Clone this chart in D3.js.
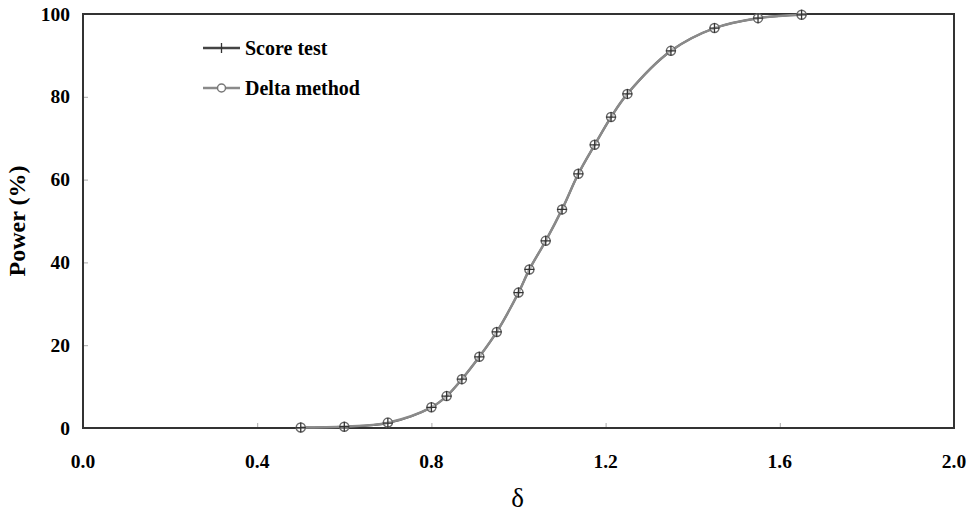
<!DOCTYPE html>
<html>
<head>
<meta charset="utf-8">
<script src="https://cdn.jsdelivr.net/npm/d3@7"></script>
<style>
  body { margin: 0; background: #fff; }
  svg { font-family: "Liberation Serif", "Times New Roman", serif; }
</style>
</head>
<body>
<svg id="chart" width="970" height="514"></svg>
<script>
// values
let delta = [0.5, 0.6, 0.7, 0.8, 0.835, 0.87, 0.91, 0.95, 1.0, 1.025, 1.0625, 1.1, 1.1375, 1.175, 1.2125, 1.25, 1.35, 1.45, 1.55, 1.65];
let scoreTest = [0.1, 0.3, 1.2, 5.0, 7.7, 11.8, 17.2, 23.2, 32.7, 38.3, 45.2, 52.8, 61.4, 68.4, 75.1, 80.7, 91.1, 96.6, 99.0, 99.8];
let deltaMethod = [0.1, 0.3, 1.3, 5.0, 7.7, 11.8, 17.2, 23.2, 32.7, 38.3, 45.2, 52.8, 61.4, 68.4, 75.1, 80.7, 91.1, 96.6, 99.0, 99.8];
let xTicks = [0.0, 0.4, 0.8, 1.2, 1.6, 2.0];
let yTicks = [0, 20, 40, 60, 80, 100];

let svg = d3.select("#chart"),
    pLeft = 83, pRight = 954, pTop = 14, pBottom = 428;

let x = d3.scaleLinear().domain([0, 2]).range([pLeft, pRight]),
    y = d3.scaleLinear().domain([0, 100]).range([pBottom, pTop]);

// inside tick marks
svg.append("g")
    .attr("transform", "translate(0," + pBottom + ")")
    .call(d3.axisTop(x).tickValues(xTicks.slice(1, -1)).tickSize(5).tickFormat(""))
    .call(g => g.select(".domain").remove())
    .call(g => g.selectAll("line").attr("stroke", "#aaa"));

svg.append("g")
    .attr("transform", "translate(" + pLeft + ",0)")
    .call(d3.axisRight(y).tickValues(yTicks.slice(1, -1)).tickSize(5).tickFormat(""))
    .call(g => g.select(".domain").remove())
    .call(g => g.selectAll("line").attr("stroke", "#aaa"));

// tick labels
svg.append("g").selectAll("text")
    .data(xTicks)
    .enter().append("text")
    .attr("x", d => x(d))
    .attr("y", 468)
    .attr("text-anchor", "middle")
    .attr("font-size", "19.5px")
    .attr("font-weight", "bold")
    .text(d => d.toFixed(1));

svg.append("g").selectAll("text")
    .data(yTicks)
    .enter().append("text")
    .attr("x", 70)
    .attr("y", d => y(d) + 6.5)
    .attr("text-anchor", "end")
    .attr("font-size", "19.5px")
    .attr("font-weight", "bold")
    .text(d => d);

// frame
svg.append("rect")
    .attr("x", pLeft)
    .attr("y", pTop)
    .attr("width", pRight - pLeft)
    .attr("height", pBottom - pTop)
    .attr("fill", "none")
    .attr("stroke", "#333")
    .attr("stroke-width", 2);

// axis titles
svg.append("text")
    .attr("transform", "translate(25," + ((pTop + pBottom) / 2) + ") rotate(-90)")
    .attr("text-anchor", "middle")
    .attr("font-size", "24px")
    .attr("font-weight", "bold")
    .text("Power (%)");

svg.append("text")
    .attr("x", (pLeft + pRight) / 2 - 1)
    .attr("y", 507)
    .attr("text-anchor", "middle")
    .attr("font-size", "27px")
    .text("δ");

let line = d3.line()
    .x(d => x(d[0]))
    .y(d => y(d[1]))
    .curve(d3.curveCatmullRom.alpha(0.5));

let scorePts = delta.map((d, i) => [d, scoreTest[i]]),
    deltaPts = delta.map((d, i) => [d, deltaMethod[i]]);

svg.append("path")
    .datum(scorePts)
    .attr("d", line)
    .attr("fill", "none")
    .attr("stroke", "#444")
    .attr("stroke-width", 2);

svg.append("path")
    .datum(deltaPts)
    .attr("d", line)
    .attr("fill", "none")
    .attr("stroke", "#8a8a8a")
    .attr("stroke-width", 2.5);

// circle markers
svg.append("g").selectAll("circle")
    .data(deltaPts)
    .enter().append("circle")
    .attr("cx", d => x(d[0]))
    .attr("cy", d => y(d[1]))
    .attr("r", 4.5)
    .attr("fill", "rgba(255,255,255,0.4)")
    .attr("stroke", "#6a6a6a")
    .attr("stroke-width", 1.5);

// plus markers
svg.append("g").selectAll("path")
    .data(scorePts)
    .enter().append("path")
    .attr("transform", d => "translate(" + x(d[0]) + "," + y(d[1]) + ")")
    .attr("d", "M-5,0H5M0,-5V5")
    .attr("stroke", "#333")
    .attr("stroke-width", 1.3)
    .attr("fill", "none");

// legend
let legend = [
    { name: "Score test", color: "#444", marker: "plus", ly: 48 },
    { name: "Delta method", color: "#8a8a8a", marker: "circle", ly: 88 }
];

let lg = svg.append("g");
legend.forEach(function(s) {
    lg.append("line")
        .attr("x1", 203).attr("x2", 240)
        .attr("y1", s.ly).attr("y2", s.ly)
        .attr("stroke", s.color)
        .attr("stroke-width", 2.5);
    if (s.marker === "plus") {
        lg.append("path")
            .attr("transform", "translate(221.5," + s.ly + ")")
            .attr("d", "M0,-5V5")
            .attr("stroke", "#333")
            .attr("stroke-width", 1.3);
    } else {
        lg.append("circle")
            .attr("cx", 221.5).attr("cy", s.ly).attr("r", 4)
            .attr("fill", "#fff")
            .attr("stroke", "#777")
            .attr("stroke-width", 1.5);
    }
    lg.append("text")
        .attr("x", 245)
        .attr("y", s.ly + 6.5)
        .attr("font-size", "20px")
        .attr("font-weight", "bold")
        .text(s.name);
});
</script>
</body>
</html>
